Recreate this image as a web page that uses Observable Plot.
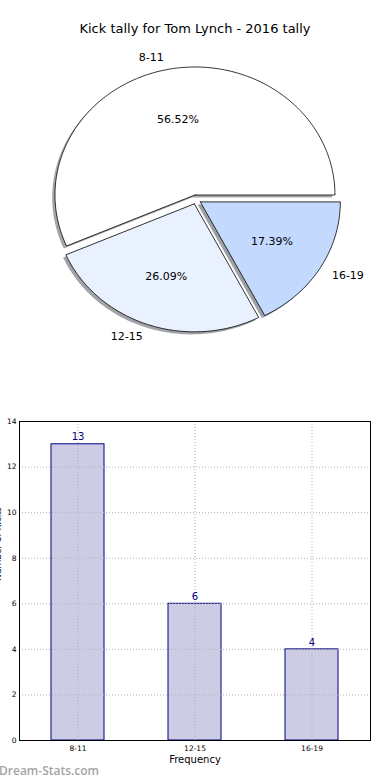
<!DOCTYPE html>
<html><head><meta charset="utf-8">
<script src="https://cdn.jsdelivr.net/npm/d3@7"></script>
<script src="https://cdn.jsdelivr.net/npm/@observablehq/plot@0.6"></script>
<style>
body{margin:0;background:#fff;font-family:"DejaVu Sans",sans-serif;}
#wrap{position:relative;width:390px;height:780px;overflow:hidden;background:#fff;}
#title{position:absolute;top:21px;left:0;width:390px;text-align:center;font-size:13px;color:#000;}
#pie{position:absolute;top:0;left:0;}
#bar{position:absolute;top:390px;left:0;}
#wm{position:absolute;left:-1px;top:762px;font-family:"Open Sans",sans-serif;font-size:12px;font-weight:600;color:#a4a4a4;}
</style></head><body>
<div id="wrap"><div id="pie"></div><div id="title"></div><div id="bar"></div><div id="wm"></div></div>
<script>
const chartTitle = "Kick tally for Tom Lynch - 2016 tally";
const categories = ["8-11", "12-15", "16-19"];
const counts = [13, 6, 4];
const sliceColors = ["#ffffff", "#eaf1fe", "#c4d9fe"];
const explode = [0.036, 0.036, 0.036];
const yTicks = [0, 2, 4, 6, 8, 10, 12, 14];
const xLabel = "Frequency";
const yLabel = "Number of Kicks";
const watermark = "Dream-Stats.com";

document.getElementById("title").textContent = chartTitle;
document.getElementById("wm").textContent = watermark;

// ---- Pie ----
const total = d3.sum(counts);
let start = 0;
const slices = categories.map((c, i) => {
  const sweep = counts[i] / total * 360;
  const s = {cat: c, i, t1: start, t2: start + sweep, frac: counts[i] / total};
  start += sweep;
  const mid = (s.t1 + s.t2) / 2 * Math.PI / 180;
  s.ox = explode[i] * Math.cos(mid);
  s.oy = explode[i] * Math.sin(mid);
  s.mid = mid;
  return s;
});
function polygon(s, dx, dy) {
  const pts = [{x: s.ox + dx, y: s.oy + dy}];
  const n = Math.max(2, Math.ceil(s.t2 - s.t1));
  for (let k = 0; k <= n; k++) {
    const a = (s.t1 + (s.t2 - s.t1) * k / n) * Math.PI / 180;
    pts.push({x: s.ox + dx + Math.cos(a), y: s.oy + dy + Math.sin(a)});
  }
  pts.push({x: s.ox + dx, y: s.oy + dy});
  return pts;
}
const pieMarks = [];
slices.forEach((s) => {
  const c = d3.rgb(sliceColors[s.i]);
  const sh = d3.rgb(c.r * 0.3, c.g * 0.3, c.b * 0.3).formatHex();
  pieMarks.push(Plot.line(polygon(s, -0.02, -0.02), {x: "x", y: "y", fill: sh, fillOpacity: 0.5, stroke: "none"}));
});
slices.forEach((s) => {
  pieMarks.push(Plot.line(polygon(s, 0, 0), {x: "x", y: "y", fill: sliceColors[s.i], stroke: "black", strokeWidth: 0.8}));
});
const catLabels = slices.map(s => ({x: s.ox + 1.1 * Math.cos(s.mid), y: s.oy + 1.1 * Math.sin(s.mid), t: s.cat, left: Math.cos(s.mid) < 0}));
const pctLabels = slices.map(s => ({x: s.ox + 0.6 * Math.cos(s.mid), y: s.oy + 0.6 * Math.sin(s.mid), t: (s.frac * 100).toFixed(2) + "%"}));
pieMarks.push(Plot.text(catLabels.filter(d => d.left), {x: "x", y: "y", text: "t", textAnchor: "end", fontSize: 11, fill: "black"}));
pieMarks.push(Plot.text(catLabels.filter(d => !d.left), {x: "x", y: "y", text: "t", textAnchor: "start", fontSize: 11, fill: "black"}));
pieMarks.push(Plot.text(pctLabels, {x: "x", y: "y", text: "t", fontSize: 11, fill: "black"}));

const cx = 195.5, cy = 199, rx = 140, ry = 128, pieW = 390, pieH = 380;
const pie = Plot.plot({
  width: pieW, height: pieH, margin: 0,
  style: {fontFamily: "DejaVu Sans", background: "transparent"},
  x: {domain: [-cx / rx, (pieW - cx) / rx], axis: null},
  y: {domain: [-(pieH - cy) / ry, cy / ry], axis: null},
  marks: pieMarks
});
document.getElementById("pie").appendChild(pie);

// ---- Bar ----
const bars = categories.map((c, i) => ({cat: c, count: counts[i]}));
const bar = Plot.plot({
  width: 390, height: 390,
  marginTop: 31, marginBottom: 40, marginLeft: 19, marginRight: 20,
  style: {fontFamily: "DejaVu Sans", fontSize: "7.5px", background: "white", color: "black"},
  x: {domain: categories, paddingInner: 0.55, paddingOuter: 0.275, label: null, tickSize: 0, tickPadding: 5},
  y: {domain: [0, 14], ticks: yTicks, tickSize: 0, tickPadding: 3, label: null},
  marks: [
    Plot.barY(bars, {x: "cat", y: "count", fill: "#ccccE5", stroke: "#000080", strokeWidth: 1}),
    Plot.ruleY(yTicks.slice(1, -1), {stroke: "#b0b0b0", strokeDasharray: "1,2"}),
    Plot.ruleX(categories, {x: d => d, stroke: "#b0b0b0", strokeDasharray: "1,2"}),
    Plot.text(bars, {x: "cat", y: "count", text: d => String(d.count), dy: -7, fill: "#000080", fontSize: 10}),
    Plot.frame({stroke: "black", strokeWidth: 1}),
    Plot.text([xLabel], {text: d => d, frameAnchor: "bottom", dy: 22, fontSize: 10, fill: "black"}),
    Plot.text([yLabel], {text: d => d, frameAnchor: "left", rotate: -90, dx: -21, fontSize: 9, fill: "black"})
  ]
});
document.getElementById("bar").appendChild(bar);
</script>
</body></html>
